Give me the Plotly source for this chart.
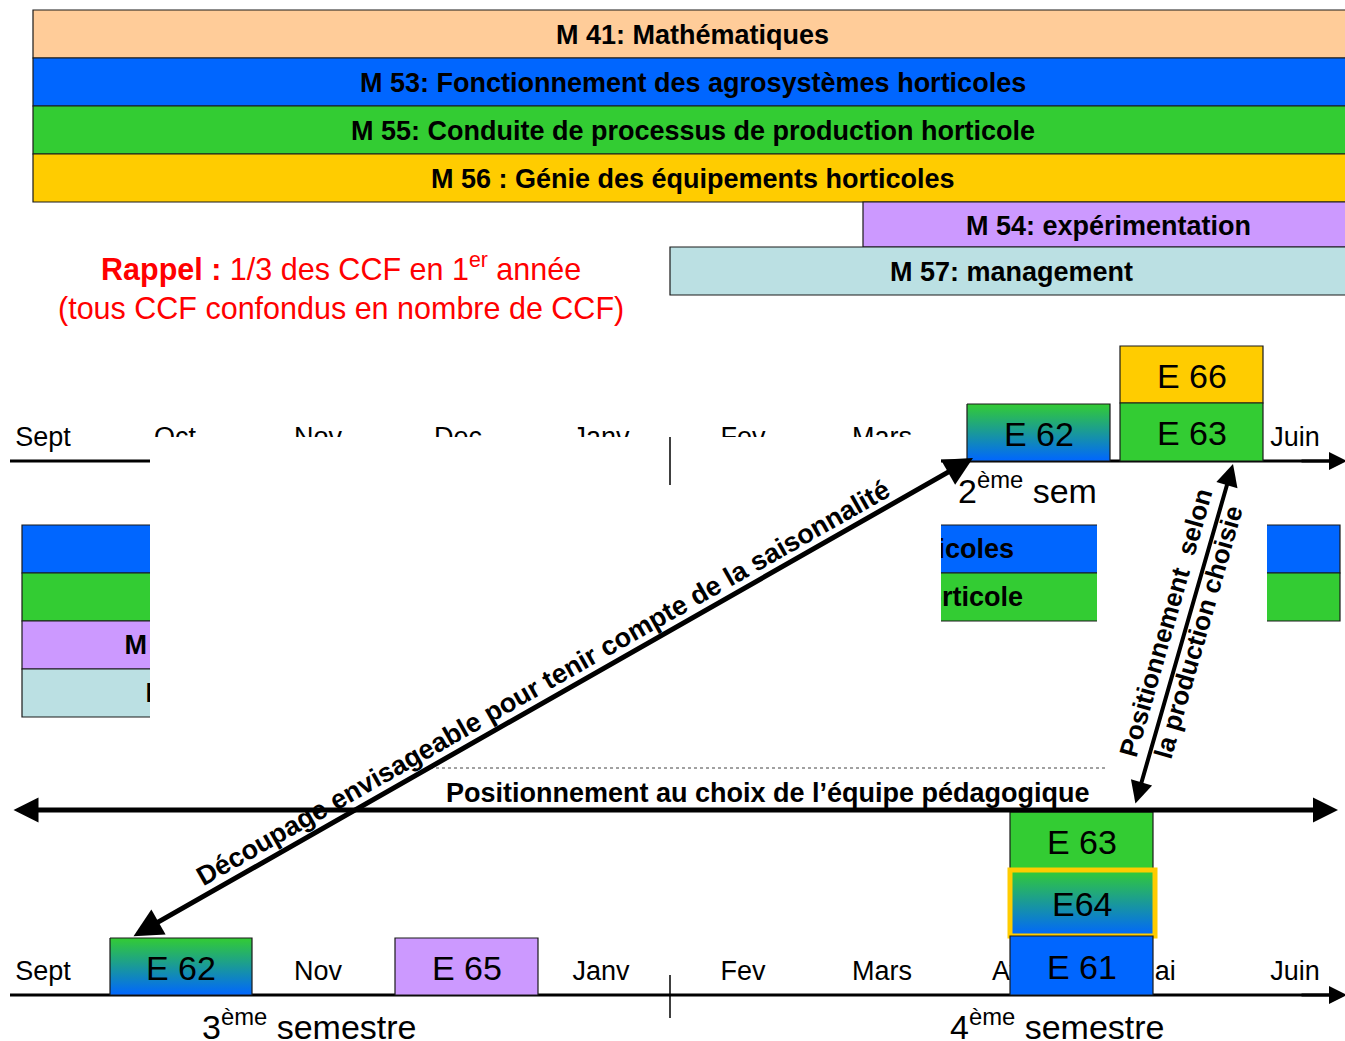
import plotly.graph_objects as go

FONT = "Liberation Sans, Arial, sans-serif"
W, H = 1345, 1041

# ---------------- data ----------------
MONTHS = ["Sept", "Oct", "Nov", "Dec", "Janv", "Fev", "Mars", "Avril", "Mai", "Juin"]
MONTH_X = [43, 175, 318, 458, 601, 743, 882, 1018, 1154, 1295]

# Year-2 modules (top band)
MOD_LABELS = ["M 41: Mathématiques",
              "M 53: Fonctionnement des agrosystèmes horticoles",
              "M 55: Conduite de processus de production horticole",
              "M 56 : Génie des équipements horticoles",
              "M 54: expérimentation",
              "M 57: management"]
MOD_X0 = [33, 33, 33, 33, 863, 670]
MOD_X1 = [1352, 1352, 1352, 1352, 1353, 1353]
MOD_Y0 = [10, 58, 106, 154, 202, 247]
MOD_Y1 = [58, 106, 154, 202, 247, 295]
MOD_COLORS = ["#FFCC99", "#0066FF", "#33CC33", "#FFCC00", "#CC99FF", "#BBE0E3"]

# Year-1 modules (partly hidden band)
Y1_LABELS = ["M 53: Fonctionnement des agrosystèmes horticoles",
             "M 55: Conduite de processus de production horticole",
             "M 54: expérimentation",
             "M 57: management"]
Y1_X0 = [22, 22, 22, 22]
Y1_X1 = [1340, 1340, 512, 512]
Y1_Y0 = [525, 573, 621, 669]
Y1_Y1 = [573, 621, 669, 717]
Y1_COLORS = ["#0066FF", "#33CC33", "#CC99FF", "#BBE0E3"]

# Exams (CCF boxes)
EXAMS = ["E 66", "E 63", "E 62", "E 62", "E 65", "E 63", "E64", "E 61"]
EX_X0 = [1120, 1120, 967, 110, 395, 1010, 1010, 1010]
EX_X1 = [1263, 1263, 1110, 252, 538, 1153, 1155, 1153]
EX_Y0 = [346, 403, 404, 938, 938, 812, 870, 936]
EX_Y1 = [403, 461, 461, 995, 995, 870, 936, 995]
EX_FILL = ["#FFCC00", "#33CC33", "grad", "grad", "#CC99FF", "#33CC33", "grad", "#0066FF"]
GRAD_TOP, GRAD_BOTTOM = "#33CC33", "#0066FF"

TIMELINE_Y = [461, 995]

fig = go.Figure()
shapes = []
ann = []


def rect(x0, x1, y0, y1, fill, lc="#1a1a1a", lw=1.2, layer="below"):
    shapes.append(dict(type="rect", xref="x", yref="y", x0=x0, x1=x1, y0=y0, y1=y1,
                       fillcolor=fill, line=dict(color=lc, width=lw), layer=layer))


def text_ann(x, y, t, size, color="black", angle=0, xanchor="center"):
    ann.append(dict(x=x, y=y, xref="x", yref="y", text=t, showarrow=False,
                    font=dict(size=size, color=color, family=FONT), textangle=angle,
                    xanchor=xanchor, yanchor="middle"))


def arrow(x0, y0, x1, y1, width, both=True, size=1.0):
    ann.append(dict(x=x1, y=y1, ax=x0, ay=y0, xref="x", yref="y", axref="x", ayref="y",
                    text="", showarrow=True, arrowhead=2, startarrowhead=2,
                    arrowside="end+start" if both else "end",
                    arrowsize=size, startarrowsize=size, arrowwidth=width,
                    arrowcolor="black", standoff=0, startstandoff=0))


# top band
for lab, x0, x1, y0, y1, c in zip(MOD_LABELS, MOD_X0, MOD_X1, MOD_Y0, MOD_Y1, MOD_COLORS):
    rect(x0, x1, y0, y1, c)
    text_ann((x0 + x1) / 2, (y0 + y1) / 2 + 1, "<b>" + lab + "</b>", 27)

# year-1 underlying band
for x0, x1, y0, y1, c in zip(Y1_X0, Y1_X1, Y1_Y0, Y1_Y1, Y1_COLORS):
    rect(x0, x1, y0, y1, c)
fig.add_trace(go.Scatter(
    x=[(a + b) / 2 for a, b in zip(Y1_X0, Y1_X1)],
    y=[(a + b) / 2 + 2 for a, b in zip(Y1_Y0, Y1_Y1)],
    mode="text", text=["<b>" + t + "</b>" for t in Y1_LABELS],
    textfont=dict(size=27, color="black", family=FONT),
    hoverinfo="skip", showlegend=False))

# timelines
for ty in TIMELINE_Y:
    shapes.append(dict(type="line", xref="x", yref="y", x0=10, x1=1338, y0=ty, y1=ty,
                       line=dict(color="black", width=3), layer="below"))

# month labels (both timelines)
for ty in [439, 973]:
    fig.add_trace(go.Scatter(x=MONTH_X, y=[ty] * len(MONTHS), mode="text", text=MONTHS,
                             textfont=dict(size=27, color="black", family=FONT),
                             hoverinfo="skip", showlegend=False))

# 2eme semestre (partly hidden)
fig.add_trace(go.Scatter(x=[958], y=[494], mode="text", text=["2<sup>ème</sup> semestre"],
                         textposition="middle right",
                         textfont=dict(size=34, color="black", family=FONT),
                         hoverinfo="skip", showlegend=False))

# gradient exam boxes (traces)
for lab, x0, x1, y0, y1, f in zip(EXAMS, EX_X0, EX_X1, EX_Y0, EX_Y1, EX_FILL):
    if f == "grad":
        fig.add_trace(go.Scatter(
            x=[x0, x1, x1, x0, x0], y=[y0, y0, y1, y1, y0], mode="lines", fill="toself",
            line=dict(color="#1a1a1a", width=1.2),
            fillgradient=dict(type="vertical", start=y0, stop=y1,
                              colorscale=[[0, GRAD_TOP], [1, GRAD_BOTTOM]]),
            hoverinfo="skip", showlegend=False))

# white covers hiding the first-year schedule
rect(150, 941, 437, 762, "white", lc="white", lw=0, layer="above")
rect(1097, 1267, 463, 762, "white", lc="white", lw=0, layer="above")

# solid exam boxes
for lab, x0, x1, y0, y1, f in zip(EXAMS, EX_X0, EX_X1, EX_Y0, EX_Y1, EX_FILL):
    if f != "grad":
        rect(x0, x1, y0, y1, f, layer="above")
    if lab == "E64":
        rect(x0, x1, y0, y1, "rgba(0,0,0,0)", lc="#FFCC00", lw=5, layer="above")
    text_ann((x0 + x1) / 2, (y0 + y1) / 2 + 1, lab, 34)

# semester separators
for y0, y1 in [(437, 485), (975, 1018)]:
    shapes.append(dict(type="line", xref="x", yref="y", x0=670, x1=670, y0=y0, y1=y1,
                       line=dict(color="black", width=1.5), layer="above"))

# dotted line above the pedagogic positioning label
shapes.append(dict(type="line", xref="x", yref="y", x0=430, x1=1105, y0=768, y1=768,
                   line=dict(color="#444444", width=1, dash="dot"), layer="above"))

# timeline arrow heads
for ty in TIMELINE_Y:
    arrow(1300, ty, 1347, ty, 3, both=False, size=1.2)

# big arrows
arrow(12, 810, 1338, 810, 5, size=1.0)
arrow(132, 937, 973, 458, 5, size=1.15)
arrow(1135, 805, 1233, 464, 4, size=1.1)

# texts
text_ann(768, 793, "<b>Positionnement au choix de l’équipe pédagogique</b>", 27)
text_ann(543, 683, "<b>Découpage envisageable pour tenir compte de la saisonnalité</b>", 27, angle=-29.6)
text_ann(1182, 628, "<b>Positionnement  selon<br>la production choisie</b>", 26, angle=-74)
text_ann(341, 287, "<b>Rappel :</b> 1/3 des CCF en 1<sup>er</sup> année<br>(tous CCF confondus en nombre de CCF)",
         30.5, color="#FF0000")
text_ann(309, 1024, "3<sup>ème</sup> semestre", 34)
text_ann(1057, 1024, "4<sup>ème</sup> semestre", 34)

fig.update_layout(
    width=W, height=H, margin=dict(l=0, r=0, t=0, b=0),
    paper_bgcolor="white", plot_bgcolor="white",
    xaxis=dict(range=[0, W], visible=False, fixedrange=True),
    yaxis=dict(range=[H, 0], visible=False, fixedrange=True),
    shapes=shapes, annotations=ann, showlegend=False,
)

fig.write_html("out.html", config={"displayModeBar": False},
               post_script="document.body.style.margin='0';")
